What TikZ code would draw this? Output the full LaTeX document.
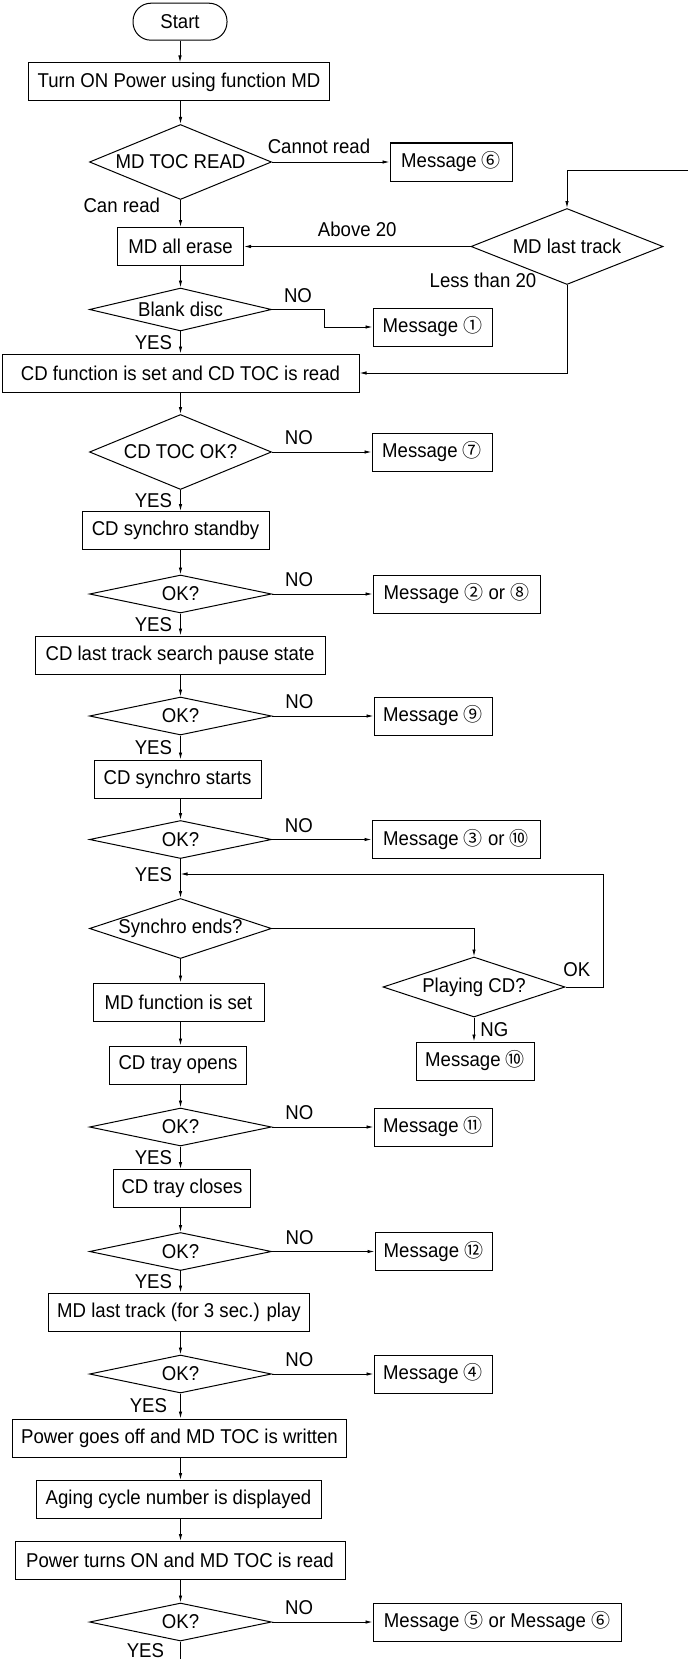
\documentclass[tikz,border=0pt]{standalone}
\usepackage{fontspec}
\setmainfont{Liberation Sans}[FakeStretch=0.93]
\newfontfamily\circfont{Noto Sans CJK JP}
\usepackage{tikz}
\usetikzlibrary{positioning,calc,shapes.geometric,arrows.meta}

\newcommand{\cnum}[1]{{\circfont\fontsize{19}{20}\selectfont #1}}

\begin{document}
\begin{tikzpicture}[x=1pt, y=-1pt,
    font=\fontsize{20}{24}\selectfont,
    box/.style={draw, line width=1pt, minimum width=#1, minimum height=38pt, inner sep=0pt},
    cond/.style={diamond, draw, line width=1pt, aspect=3, inner sep=0pt,
                 minimum width=182pt, minimum height=#1},
    cond/.default=38pt,
    term/.style={draw, line width=1pt, rounded corners=18pt, minimum width=94pt,
                 minimum height=37pt},
    lbl/.style={inner sep=1pt},
    arr/.style={line width=0.9pt, -{Latex[length=7pt,width=3.5pt]}},
    plain/.style={line width=0.9pt}]
    \useasboundingbox (0,0) rectangle (688,1659);

      % Start and MD check
      \node[term] (start) at (180, 21.7) {Start};
      \node[box=300.5pt] (turnon) at (179, 82) {Turn ON Power using function MD};
      \node[cond=75pt] (tocread) at (180.5, 162) {MD TOC READ};
      \node[box=122pt] (msg6a) at (451, 162) {Message \cnum{⑥}};
      \node[box=126pt] (erase) at (180.5, 246.5) {MD all erase};
      \node[cond=76pt, minimum width=192pt] (lasttrk) at (567, 246.5) {MD last track};
      \node[cond=39pt] (blank) at (180.5, 309.5) {Blank disc};
      \node[box=119pt] (msg1) at (432.5, 327) {Message \cnum{①}};

      % CD side
      \node[box=357pt] (cdfunc) at (180.5, 373) {CD function is set and CD TOC is read};
      \node[cond=75pt] (cdtoc) at (180.5, 452) {CD TOC OK?};
      \node[box=120pt] (msg7) at (432, 452) {Message \cnum{⑦}};
      \node[box=187pt] (standby) at (175.5, 530.5) {CD synchro standby};
      \node[cond] (ok1) at (180.5, 594) {OK?};
      \node[box=167pt] (msg28) at (456.5, 594) {Message \cnum{②} or \cnum{⑧}};
      \node[box=290pt] (search) at (180, 655) {CD last track search pause state};
      \node[cond] (ok2) at (180.5, 716) {OK?};
      \node[box=118pt] (msg9) at (433, 716) {Message \cnum{⑨}};
      \node[box=167pt] (starts) at (177.5, 779) {CD synchro starts};
      \node[cond] (ok3) at (180.5, 839.5) {OK?};
      \node[box=168pt] (msg310) at (456, 839.5) {Message \cnum{③} or \cnum{⑩}};

      % Synchro loop
      \coordinate (loopin) at (180.5, 874);
      \node[cond=60pt] (synend) at (180.5, 928.5) {Synchro ends?};
      \node[cond=60pt] (playing) at (474, 987) {Playing CD?};
      \node[box=118pt] (msg10) at (475, 1061) {Message \cnum{⑩}};
      \node[box=171pt] (mdfunc) at (178.5, 1002) {MD function is set};

      % Tray and MD play
      \node[box=137pt] (trayopen) at (178, 1065) {CD tray opens};
      \node[cond] (ok4) at (180.5, 1127) {OK?};
      \node[box=118pt] (msg11) at (433, 1127) {Message \cnum{⑪}};
      \node[box=137pt] (trayclose) at (182, 1188.5) {CD tray closes};
      \node[cond] (ok5) at (180.5, 1251.5) {OK?};
      \node[box=117pt] (msg12) at (433.5, 1251.5) {Message \cnum{⑫}};
      \node[box=261pt] (mdplay) at (179, 1312) {MD last track (for 3 sec.) play};
      \node[cond] (ok6) at (180.5, 1374) {OK?};
      \node[box=118pt] (msg4) at (433, 1374) {Message \cnum{④}};

      % Power cycle
      \node[box=334pt] (pwroff) at (179.5, 1438) {Power goes off and MD TOC is written};
      \node[box=285pt] (aging) at (178.5, 1499.5) {Aging cycle number is displayed};
      \node[box=330pt] (pwron) at (180, 1560.5) {Power turns ON and MD TOC is read};
      \node[cond] (ok7) at (180.5, 1622) {OK?};
      \node[box=248pt] (msg56) at (497, 1622) {Message \cnum{⑤} or Message \cnum{⑥}};
      \coordinate (fin) at (180.5, 1659);
      \coordinate (feed) at (688, 170);

      % Labels off the lines
      \node[lbl] (less) at (483, 280) {Less than 20};

      % Connectors
      \draw[arr] (start) -- (start |- turnon.north);
      \draw[arr] (turnon.south -| tocread) -- (tocread);
      \draw[arr] (tocread) -- node[lbl, above=7pt, pos=.4] {Cannot read} (msg6a);
      \draw[arr] (tocread) -- node[lbl, left=19pt, pos=.2] {Can read} (tocread |- erase.north);
      \draw[arr] (feed) -| (lasttrk);
      \draw[arr] (lasttrk) -- node[lbl, above=8pt] {Above 20} (erase);
      \draw[arr] (lasttrk.south) |- (cdfunc.east);
      \draw[arr] (erase.south -| blank) -- (blank);
      \draw[arr] (blank.east) -- node[lbl, above=5.5pt] {NO} ++(52,0) |- (msg1.west);
      \draw[arr] (blank) -- node[lbl, left=7pt] {YES} (blank |- cdfunc.north);
      \draw[arr] (cdfunc.south -| cdtoc) -- (cdtoc);
      \draw[arr] (cdtoc) -- node[lbl, above=5.5pt, pos=.27] {NO} (msg7);
      \draw[arr] (cdtoc) -- node[lbl, left=7pt] {YES} (cdtoc |- standby.north);
      \draw[arr] (standby.south -| ok1) -- (ok1);
      \draw[arr] (ok1) -- node[lbl, above=5.5pt, pos=.27] {NO} (msg28);
      \draw[arr] (ok1) -- node[lbl, left=7pt] {YES} (ok1 |- search.north);
      \draw[arr] (search.south -| ok2) -- (ok2);
      \draw[arr] (ok2) -- node[lbl, above=5.5pt, pos=.27] {NO} (msg9);
      \draw[arr] (ok2) -- node[lbl, left=7pt] {YES} (ok2 |- starts.north);
      \draw[arr] (starts.south -| ok3) -- (ok3);
      \draw[arr] (ok3) -- node[lbl, above=5.5pt, pos=.27] {NO} (msg310);
      \draw[arr] (ok3) -- node[lbl, left=7pt, pos=.4] {YES} (synend);
      \draw[arr] (synend) -| (playing);
      \draw[arr] (playing.east) -- node[lbl, above=9pt, pos=.3] {OK} ++(37.5,0) |- (loopin);
      \draw[arr] (playing) -- node[lbl, right=5pt] {NG} (playing |- msg10.north);
      \draw[arr] (synend) -- (synend |- mdfunc.north);
      \draw[arr] (ok4 |- mdfunc.south) -- (ok4 |- trayopen.north);
      \draw[arr] (trayopen.south -| ok4) -- (ok4);
      \draw[arr] (ok4) -- node[lbl, above=5.5pt, pos=.27] {NO} (msg11);
      \draw[arr] (ok4) -- node[lbl, left=7pt] {YES} (ok4 |- trayclose.north);
      \draw[arr] (trayclose.south -| ok5) -- (ok5);
      \draw[arr] (ok5) -- node[lbl, above=5.5pt, pos=.27] {NO} (msg12);
      \draw[arr] (ok5) -- node[lbl, left=7pt] {YES} (ok5 |- mdplay.north);
      \draw[arr] (mdplay.south -| ok6) -- (ok6);
      \draw[arr] (ok6) -- node[lbl, above=5.5pt, pos=.27] {NO} (msg4);
      \draw[arr] (ok6) -- node[lbl, left=12pt] {YES} (ok6 |- pwroff.north);
      \draw[arr] (pwroff.south -| ok7) -- (ok7 |- aging.north);
      \draw[arr] (aging.south -| ok7) -- (ok7 |- pwron.north);
      \draw[arr] (pwron.south -| ok7) -- (ok7);
      \draw[arr] (ok7) -- node[lbl, above=5.5pt, pos=.27] {NO} (msg56);
      \draw[plain] (ok7) -- node[lbl, left=15pt] {YES} (fin);
  \end{tikzpicture}
\end{document}
